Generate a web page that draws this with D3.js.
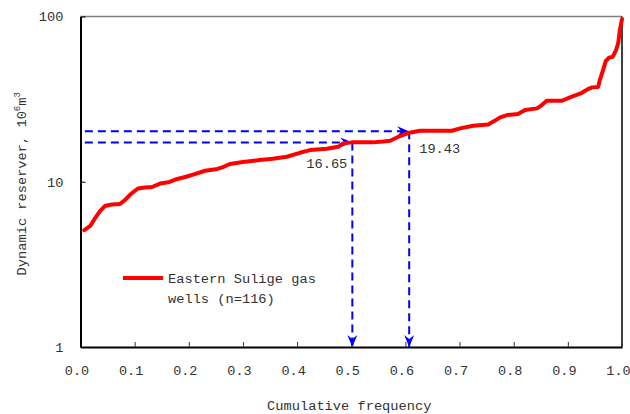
<!DOCTYPE html>
<html>
<head>
<meta charset="utf-8">
<script src="https://cdn.jsdelivr.net/npm/d3@7"></script>
<style>
  body { margin: 0; background: #fff; }
  text { font-family: "Liberation Mono", "DejaVu Sans Mono", monospace; fill: #333; }
</style>
</head>
<body>
<div id="chart"></div>
<script>
// cumulative frequency and dynamic reserve (10^6 m^3)
var freq = [0.007, 0.018, 0.027, 0.036, 0.045, 0.058, 0.073, 0.082, 0.093, 0.106,
    0.119, 0.132, 0.147, 0.162, 0.175, 0.195, 0.211, 0.230, 0.250, 0.263,
    0.276, 0.300, 0.331, 0.355, 0.381, 0.405, 0.424, 0.455, 0.476, 0.485,
    0.502, 0.540, 0.559, 0.572, 0.590, 0.605, 0.627, 0.686, 0.701, 0.725,
    0.753, 0.764, 0.775, 0.788, 0.808, 0.821, 0.843, 0.852, 0.861, 0.889,
    0.904, 0.926, 0.937, 0.945, 0.956, 0.959, 0.965, 0.970, 0.976, 0.983,
    0.989, 0.993, 0.996, 1.000];
var reserve = [5.10, 5.40, 6.03, 6.65, 7.13, 7.28, 7.33, 7.75, 8.43, 9.10,
    9.22, 9.29, 9.75, 9.92, 10.31, 10.72, 11.13, 11.66, 11.89, 12.27,
    12.80, 13.16, 13.53, 13.78, 14.17, 14.97, 15.55, 15.84, 16.28, 17.07,
    17.31, 17.31, 17.51, 17.70, 18.90, 19.71, 20.35, 20.35, 21.04, 21.82,
    22.24, 23.29, 24.52, 25.32, 25.68, 27.15, 27.80, 29.11, 30.91, 30.91,
    32.40, 34.55, 36.37, 37.25, 37.50, 41.20, 47.40, 53.70, 56.40, 57.10,
    62.60, 69.00, 82.70, 96.50];

// the two read-off guides (position of lines) and their labels
var guideFreq = [0.502, 0.607];
var guideLevel = [17.3, 20.2];
var guideText = ["16.65", "19.43"];
var guideStart = 0.008;

var xTicks = [0, 0.1, 0.2, 0.3, 0.4, 0.5, 0.6, 0.7, 0.8, 0.9, 1.0];
var yTicks = [1, 10, 100];
var legendText = ["Eastern Sulige gas", "wells\u00a0(n=116)"];

var margin = { top: 16.5, right: 8, bottom: 67, left: 80.5 },
    width = 630 - margin.left - margin.right,
    height = 414 - margin.top - margin.bottom;

var svg = d3.select("#chart")
    .append("svg")
    .attr("width", 630)
    .attr("height", 414);

var g = svg.append("g")
    .attr("transform", "translate(" + margin.left + "," + margin.top + ")");

var x = d3.scaleLinear().domain([0, 1]).range([0, width]);
var y = d3.scaleLog().domain([1, 100]).range([height, 0]);

// arrow marker
svg.append("defs").append("marker")
    .attr("id", "arrow")
    .attr("viewBox", "0 0 12 10")
    .attr("refX", 12)
    .attr("refY", 5)
    .attr("markerWidth", 12)
    .attr("markerHeight", 10)
    .attr("markerUnits", "userSpaceOnUse")
    .attr("orient", "auto")
    .append("path")
    .attr("d", "M0,0 L12,5 L0,10 L4,5 Z")
    .attr("fill", "#0000ff");

// frame: top border grey, other sides black
g.append("line").attr("x1", 0).attr("x2", width).attr("y1", 0).attr("y2", 0)
    .attr("stroke", "#808080").attr("stroke-width", 1.5);
g.append("line").attr("x1", width).attr("x2", width).attr("y1", 0).attr("y2", height)
    .attr("stroke", "#000").attr("stroke-width", 1.5);

// axes
var xAxis = g.append("g")
    .attr("transform", "translate(0," + height + ")")
    .call(d3.axisBottom(x).tickValues(xTicks).tickSizeInner(-5).tickSizeOuter(0)
        .tickFormat(d3.format(".1f")));
xAxis.select(".domain").attr("stroke", "#000").attr("stroke-width", 2);
xAxis.selectAll(".tick line").attr("stroke", "#333");
xAxis.selectAll("text").attr("y", 18).attr("dx", -4).attr("dy", "0.71em")
    .style("font-size", "13.5px");

var yAxis = g.append("g")
    .call(d3.axisLeft(y).tickValues(yTicks).tickSizeInner(-5).tickSizeOuter(0)
        .tickFormat(d3.format("d")));
yAxis.select(".domain").attr("stroke", "#000").attr("stroke-width", 2);
yAxis.selectAll(".tick line").attr("stroke", "#000");
yAxis.selectAll("text").attr("x", -17).style("font-size", "13.7px");

// axis titles
svg.append("text")
    .attr("x", margin.left + width / 2 - 2)
    .attr("y", 410)
    .attr("text-anchor", "middle")
    .style("font-size", "13.7px")
    .text("Cumulative frequency");

var yTitle = svg.append("text")
    .attr("transform", "translate(26," + (margin.top + height / 2 + 2) + ") rotate(-90)")
    .attr("text-anchor", "middle")
    .style("font-size", "13.7px");
yTitle.append("tspan").text("Dynamic reserver, 10");
yTitle.append("tspan").attr("dy", -6).style("font-size", "9px").text("6");
yTitle.append("tspan").attr("dy", 6).text("m");
yTitle.append("tspan").attr("dy", -6).style("font-size", "9px").text("3");

// guide lines
guideFreq.forEach(function(f, i) {
    g.append("line")
        .attr("x1", x(guideStart)).attr("x2", x(f))
        .attr("y1", y(guideLevel[i])).attr("y2", y(guideLevel[i]))
        .attr("stroke", "#0000ff").attr("stroke-width", 2)
        .attr("stroke-dasharray", "8,5")
        .attr("marker-end", "url(#arrow)");
    g.append("line")
        .attr("x1", x(f)).attr("x2", x(f))
        .attr("y1", y(guideLevel[i])).attr("y2", height)
        .attr("stroke", "#0000ff").attr("stroke-width", 2)
        .attr("stroke-dasharray", "8,5")
        .attr("marker-end", "url(#arrow)");
});

// curve
var line = d3.line()
    .x((d, i) => x(freq[i]))
    .y(d => y(d));

g.append("path")
    .datum(reserve)
    .attr("fill", "none")
    .attr("stroke", "#ff0000")
    .attr("stroke-width", 4)
    .attr("stroke-linejoin", "round")
    .attr("stroke-linecap", "round")
    .attr("d", line);

// guide labels
g.append("text")
    .attr("x", x(guideFreq[0]) - 5)
    .attr("y", y(guideLevel[0]) + 26)
    .attr("text-anchor", "end")
    .style("font-size", "13.7px")
    .text(guideText[0]);
g.append("text")
    .attr("x", x(guideFreq[1]) + 10)
    .attr("y", y(guideLevel[1]) + 22)
    .style("font-size", "13.7px")
    .text(guideText[1]);

// legend
svg.append("line")
    .attr("x1", 123).attr("x2", 163).attr("y1", 278).attr("y2", 278)
    .attr("stroke", "#ff0000").attr("stroke-width", 4);
legendText.forEach(function(t, i) {
    svg.append("text")
        .attr("x", 168)
        .attr("y", 283 + i * 20)
        .style("font-size", "13.7px")
        .text(t);
});
</script>
</body>
</html>
